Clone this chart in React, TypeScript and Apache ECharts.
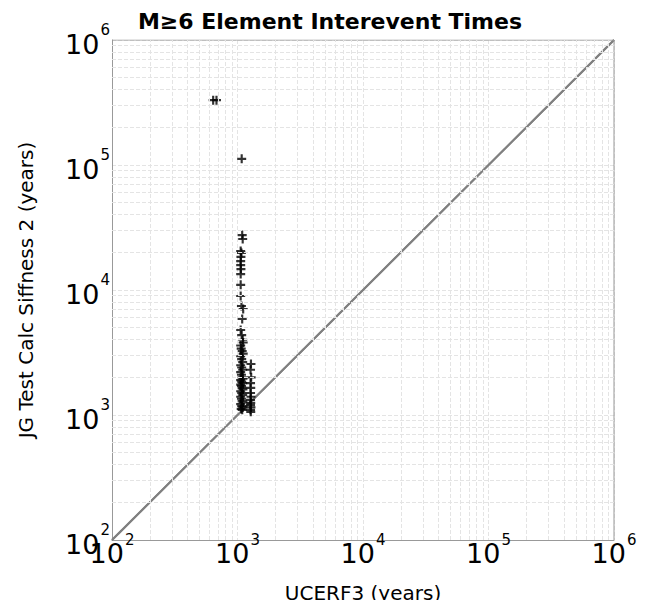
import React, { useEffect, useRef } from "react";
import * as echarts from "echarts";

const topPoints: [number, number][] = [[640, 330000], [680, 330000], [1080, 112000]];
const col1Y = [27500, 25600, 20500, 19800, 18400, 17000, 15800, 14700, 13400, 11000, 8950, 7450, 7050, 5860, 4790,
  4360, 4000, 3800, 3600, 3400, 3250, 3100, 2950, 2800, 2650, 2500, 2400, 2300, 2200, 2100, 2000, 1950, 1900, 1850, 1800,
  1750, 1700, 1650, 1600, 1550, 1500, 1450, 1400, 1350, 1300, 1260, 1220, 1180, 1150, 1120, 1100];
const col1X = [1090, 1100, 1060, 1075, 1065, 1060, 1060, 1065, 1060, 1060, 1060, 1075, 1110, 1090, 1060,
  1080, 1100, 1110, 1060, 1070, 1090, 1110, 1060, 1080, 1100, 1060, 1080, 1100, 1060, 1075, 1090, 1105, 1060, 1080, 1100,
  1060, 1075, 1090, 1105, 1060, 1080, 1100, 1060, 1075, 1090, 1105, 1060, 1080, 1100, 1070, 1090];
const col2Y = [2560, 2300, 2000, 1800, 1650, 1500, 1400, 1320, 1250, 1200, 1150, 1100, 1060];
const col2X = [1280, 1270, 1285, 1270, 1275, 1270, 1280, 1270, 1275, 1270, 1280, 1270, 1275];
const decades = [100, 1000, 10000, 100000, 1000000];

export default function App() {
  const ref = useRef<HTMLDivElement>(null);
  useEffect(() => {
    const chart = echarts.init(ref.current!, null, { renderer: "svg" });
    const minor: number[] = [];
    for (const d of decades.slice(0, 4)) for (let k = 2; k <= 9; k++) minor.push(d * k);
    const pts: [number, number][] = [...topPoints, ...col1Y.map((y, i) => [col1X[i], y] as [number, number]), ...col2Y.map((y, i) => [col2X[i], y] as [number, number])];
    const fmt = (v: number) => `{b|10}{s|${Math.round(Math.log10(v))}}`;
    const rich = { b: { fontSize: 27, color: "#000", fontFamily: "DejaVu Sans", verticalAlign: "bottom", lineHeight: 34 }, s: { fontSize: 15, color: "#000", fontFamily: "DejaVu Sans", verticalAlign: "top", padding: [0, 0, 20, 1] } };
    const dash = { color: "#e4e4e4", type: "dashed", width: 1 };
    chart.setOption({
      animation: false,
      title: { text: "M≥6 Element Interevent Times", left: 317, top: -3, textAlign: "center", textStyle: { fontSize: 22, fontWeight: "bold", fontFamily: "DejaVu Sans", color: "#000" } },
      grid: { left: 89, right: 44, top: 32, bottom: 68 },
      xAxis: { type: "log", min: 100, max: 1000000, logBase: 10, name: "UCERF3 (years)", nameLocation: "middle", nameGap: 43,
        nameTextStyle: { fontSize: 20, fontFamily: "DejaVu Sans", color: "#000" },
        axisLine: { lineStyle: { color: "#999" } }, axisTick: { show: false },
        axisLabel: { formatter: fmt, rich, margin: -8 }, splitLine: { lineStyle: dash } },
      yAxis: { type: "log", min: 100, max: 1000000, logBase: 10, name: "JG Test Calc Siffness 2 (years)", nameLocation: "middle", nameGap: 76,
        nameTextStyle: { fontSize: 20, fontFamily: "DejaVu Sans", color: "#000" },
        axisLine: { lineStyle: { color: "#999" } }, axisTick: { show: false },
        axisLabel: { formatter: fmt, rich, margin: 2 }, splitLine: { lineStyle: dash } },
      series: [
        { type: "line", data: [[100, 100], [1000000, 1000000]], symbol: "none", lineStyle: { color: "#808080", width: 2 },
          markLine: { silent: true, symbol: "none", label: { show: false }, lineStyle: dash,
            data: [...minor.map((v) => ({ xAxis: v })), ...minor.map((v) => ({ yAxis: v }))] } },
        { type: "line", data: [[100, 100], [1000000, 1000000]], symbol: "none", z: 3, lineStyle: { color: "#808080", width: 2 } },
        { type: "scatter", data: pts, symbol: "path://M3.8,0H6.2V10H3.8ZM0,3.8H10V6.2H0Z", symbolSize: 9, z: 4, itemStyle: { color: "#000" } },
        { type: "line", data: [[100, 1000000], [1000000, 1000000]], symbol: "none", lineStyle: { color: "#999", width: 1 } },
        { type: "line", data: [[1000000, 100], [1000000, 1000000]], symbol: "none", lineStyle: { color: "#999", width: 1 } },
      ],
    });
    return () => chart.dispose();
  }, []);
  return <div ref={ref} style={{ width: 650, height: 600 }} />;
}
